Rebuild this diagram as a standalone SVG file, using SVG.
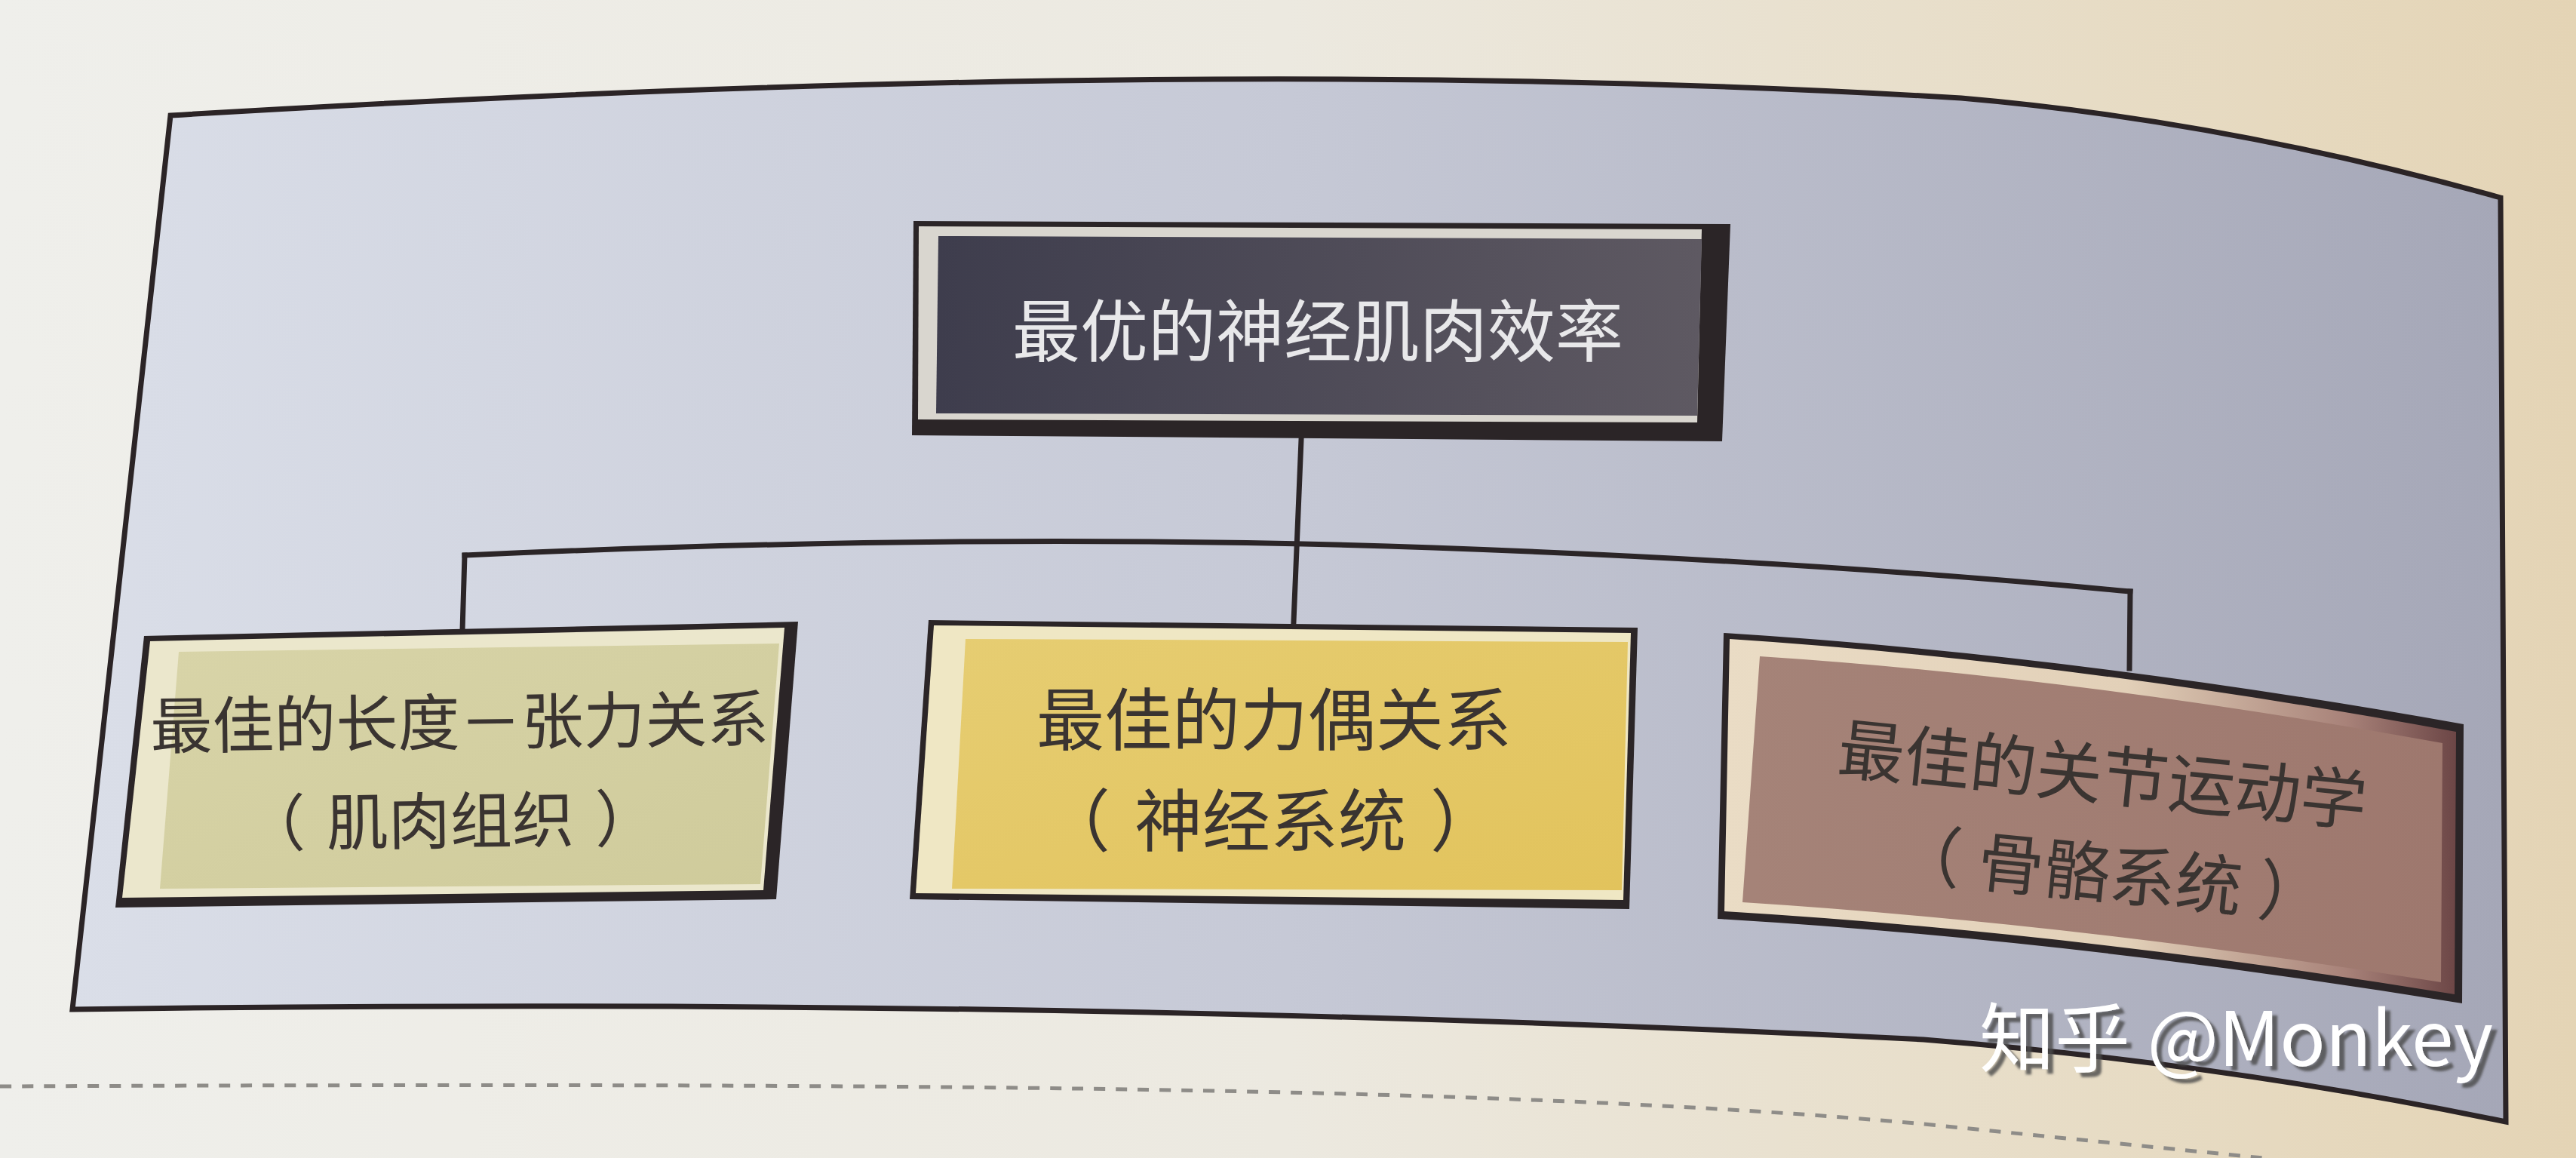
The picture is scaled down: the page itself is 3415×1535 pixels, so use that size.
<svg xmlns="http://www.w3.org/2000/svg" width="3415" height="1535" viewBox="0 0 3415 1535">
  <defs>
    <linearGradient id="paper" x1="0" y1="0" x2="1" y2="0">
      <stop offset="0" stop-color="#efefeb"/>
      <stop offset="0.5" stop-color="#ece9e0"/>
      <stop offset="1" stop-color="#e4d4b5"/>
    </linearGradient>
    <linearGradient id="panel" x1="0" y1="0" x2="1" y2="0">
      <stop offset="0" stop-color="#dadee8"/>
      <stop offset="0.5" stop-color="#c6c9d6"/>
      <stop offset="1" stop-color="#a5a7b7"/>
    </linearGradient>
    <linearGradient id="topFill" x1="0" y1="0" x2="1" y2="0">
      <stop offset="0" stop-color="#3e3d4d"/>
      <stop offset="1" stop-color="#5e5962"/>
    </linearGradient>
    <linearGradient id="khaki" x1="0" y1="0" x2="1" y2="1">
      <stop offset="0" stop-color="#d8d4a8"/>
      <stop offset="1" stop-color="#cfcb9b"/>
    </linearGradient>
    <linearGradient id="gold" x1="0" y1="0" x2="1" y2="1">
      <stop offset="0" stop-color="#e6cd72"/>
      <stop offset="1" stop-color="#e2c35c"/>
    </linearGradient>
    <linearGradient id="mauveRim" x1="0" y1="0" x2="1" y2="0">
      <stop offset="0" stop-color="#eadcc5"/>
      <stop offset="0.55" stop-color="#e2d0b8"/>
      <stop offset="0.85" stop-color="#a88279"/>
      <stop offset="1" stop-color="#6c4646"/>
    </linearGradient>
    <linearGradient id="mauve" x1="0" y1="0" x2="1" y2="0">
      <stop offset="0" stop-color="#a58378"/>
      <stop offset="1" stop-color="#9e786e"/>
    </linearGradient>
    <filter id="wmShadow" x="-5%" y="-20%" width="115%" height="150%">
      <feDropShadow dx="7" dy="6" stdDeviation="1.5" flood-color="#4a4a4a" flood-opacity="0.8"/>
    </filter>
    <style>
      .border { fill: #2b2527; }
      .conn { fill: none; stroke: #2b2527; stroke-width: 7; stroke-linecap: square; }
      .frame { fill: url(#panel); stroke: #2b2426; stroke-width: 7; stroke-linejoin: miter; }
      .lbl { font-family: "Noto Sans CJK SC", "Noto Sans", sans-serif; text-anchor: middle; dominant-baseline: central; }
      .dark { fill: #3a3431; }
      .wm { font-family: "Noto Sans CJK SC", "Noto Sans", sans-serif; font-size: 100px; fill: #ffffff; }
    </style>
  </defs>

  <rect x="0" y="0" width="3415" height="1535" fill="url(#paper)"/>
  <path d="M0,1440 C1200,1435 2000,1440 2550,1490 Q2800,1515 3000,1535" fill="none" stroke="#8e8c88" stroke-width="5" stroke-dasharray="15 14"/>

  <g id="frame">
    <path class="frame" d="M226,153 Q1600,70 2600,130 Q2950,160 3315,262 L3322,1487 Q2950,1410 2550,1378 Q1400,1320 96,1338 Z"/>
  </g>

  <g id="connectors">
    <path class="conn" d="M1725,583 L1715,824"/>
    <path class="conn" d="M616,736 Q1300,705 1900,726 Q2400,744 2824,784"/>
    <path class="conn" d="M616,736 L613,836"/>
    <path class="conn" d="M2824,784 L2823,886"/>
  </g>

  <g id="node-top">
    <polygon class="border" points="1211,293 2294,297 2283,585 1209,577"/>
    <polygon fill="#d9d6cf" points="1218,300 2256,304 2250,560 1217,556"/>
    <polygon fill="url(#topFill)" points="1244,313 2256,317 2250,551 1241,548"/>
    <text class="lbl" x="1747" y="433" font-size="90" fill="#e8e8ea">最优的神经肌肉效率</text>
  </g>

  <g id="node-left">
    <polygon class="border" points="191,843 1058,824 1029,1192 153,1203"/>
    <polygon fill="#ebe7cc" points="199,850 1040,832 1012,1180 162,1190"/>
    <polygon fill="url(#khaki)" points="237,864 1033,853 1008,1172 212,1178"/>
    <g transform="rotate(-0.7 610 1015)">
      <text class="lbl dark" x="610" y="952" font-size="82">最佳的长度－张力关系</text>
      <text class="lbl dark" x="596" y="1082" font-size="82"><tspan>（</tspan><tspan dx="28">肌肉组织</tspan><tspan dx="28">）</tspan></text>
    </g>
  </g>

  <g id="node-middle">
    <polygon class="border" points="1231,822 2171,832 2160,1205 1206,1192"/>
    <polygon fill="#efe7c4" points="1238,829 2162,839 2152,1193 1214,1184"/>
    <polygon fill="url(#gold)" points="1280,847 2158,851 2150,1180 1262,1178"/>
    <text class="lbl dark" x="1689" y="948" font-size="90">最佳的力偶关系</text>
    <text class="lbl dark" x="1684" y="1082" font-size="90"><tspan>（</tspan><tspan dx="32">神经系统</tspan><tspan dx="32">）</tspan></text>
  </g>

  <g id="node-right">
    <path class="border" d="M2285,839 Q2750,868 3266,960 L3264,1330 Q2750,1246 2277,1218 Z"/>
    <path fill="url(#mauveRim)" d="M2293,847 Q2750,877 3256,970 L3254,1318 Q2750,1236 2286,1208 Z"/>
    <path fill="url(#mauve)" d="M2333,870 Q2760,898 3238,985 L3236,1302 Q2750,1224 2310,1196 Z"/>
    <text class="lbl dark" x="2788" y="1021" font-size="88" transform="rotate(5.8 2788 1021)">最佳的关节运动学</text>
    <text class="lbl dark" x="2798" y="1152" font-size="88" transform="rotate(5.8 2798 1152)"><tspan>（</tspan><tspan dx="22">骨骼系统</tspan><tspan dx="22">）</tspan></text>
  </g>

  <g id="watermark">
    <text class="wm" x="2624" y="1413" filter="url(#wmShadow)">知乎 @Monkey</text>
  </g>
</svg>
